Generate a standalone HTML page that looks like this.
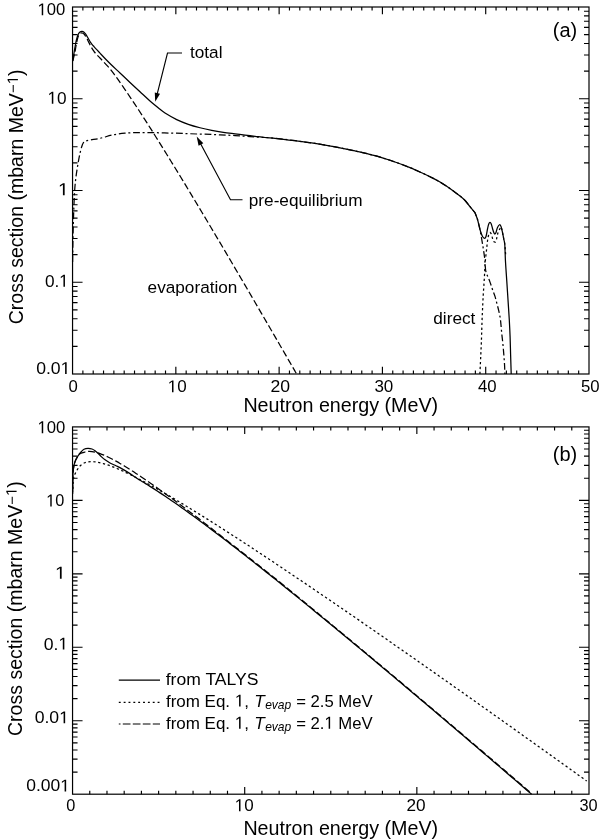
<!DOCTYPE html>
<html><head><meta charset="utf-8"><style>
html,body{margin:0;padding:0;background:#fff;}
svg{display:block;will-change:transform;}
text{font-family:"Liberation Sans",sans-serif;fill:#000;}
</style></head><body>
<svg width="600" height="839" viewBox="0 0 600 839">
<rect width="600" height="839" fill="#fff"/>
<rect x="72.55" y="7" width="516.45" height="367" fill="none" stroke="#000" stroke-width="1.2"/>
<path d="M82.88,374v-3.5M82.88,7v3.5M93.21,374v-3.5M93.21,7v3.5M103.54,374v-3.5M103.54,7v3.5M113.87,374v-3.5M113.87,7v3.5M124.19,374v-3.5M124.19,7v3.5M134.52,374v-3.5M134.52,7v3.5M144.85,374v-3.5M144.85,7v3.5M155.18,374v-3.5M155.18,7v3.5M165.51,374v-3.5M165.51,7v3.5M175.84,374v-7.2M175.84,7v7.2M186.17,374v-3.5M186.17,7v3.5M196.5,374v-3.5M196.5,7v3.5M206.83,374v-3.5M206.83,7v3.5M217.16,374v-3.5M217.16,7v3.5M227.49,374v-3.5M227.49,7v3.5M237.81,374v-3.5M237.81,7v3.5M248.14,374v-3.5M248.14,7v3.5M258.47,374v-3.5M258.47,7v3.5M268.8,374v-3.5M268.8,7v3.5M279.13,374v-7.2M279.13,7v7.2M289.46,374v-3.5M289.46,7v3.5M299.79,374v-3.5M299.79,7v3.5M310.12,374v-3.5M310.12,7v3.5M320.45,374v-3.5M320.45,7v3.5M330.78,374v-3.5M330.78,7v3.5M341.1,374v-3.5M341.1,7v3.5M351.43,374v-3.5M351.43,7v3.5M361.76,374v-3.5M361.76,7v3.5M372.09,374v-3.5M372.09,7v3.5M382.42,374v-7.2M382.42,7v7.2M392.75,374v-3.5M392.75,7v3.5M403.08,374v-3.5M403.08,7v3.5M413.41,374v-3.5M413.41,7v3.5M423.74,374v-3.5M423.74,7v3.5M434.07,374v-3.5M434.07,7v3.5M444.39,374v-3.5M444.39,7v3.5M454.72,374v-3.5M454.72,7v3.5M465.05,374v-3.5M465.05,7v3.5M475.38,374v-3.5M475.38,7v3.5M485.71,374v-7.2M485.71,7v7.2M496.04,374v-3.5M496.04,7v3.5M506.37,374v-3.5M506.37,7v3.5M516.7,374v-3.5M516.7,7v3.5M527.03,374v-3.5M527.03,7v3.5M537.36,374v-3.5M537.36,7v3.5M547.68,374v-3.5M547.68,7v3.5M558.01,374v-3.5M558.01,7v3.5M568.34,374v-3.5M568.34,7v3.5M578.67,374v-3.5M578.67,7v3.5M72.55,346.38h5M589,346.38h-5M72.55,330.22h5M589,330.22h-5M72.55,318.76h5M589,318.76h-5M72.55,309.87h5M589,309.87h-5M72.55,302.6h5M589,302.6h-5M72.55,296.46h5M589,296.46h-5M72.55,291.14h5M589,291.14h-5M72.55,286.45h5M589,286.45h-5M72.55,282.25h10M589,282.25h-10M72.55,254.63h5M589,254.63h-5M72.55,238.47h5M589,238.47h-5M72.55,227.01h5M589,227.01h-5M72.55,218.12h5M589,218.12h-5M72.55,210.85h5M589,210.85h-5M72.55,204.71h5M589,204.71h-5M72.55,199.39h5M589,199.39h-5M72.55,194.7h5M589,194.7h-5M72.55,190.5h10M589,190.5h-10M72.55,162.88h5M589,162.88h-5M72.55,146.72h5M589,146.72h-5M72.55,135.26h5M589,135.26h-5M72.55,126.37h5M589,126.37h-5M72.55,119.1h5M589,119.1h-5M72.55,112.96h5M589,112.96h-5M72.55,107.64h5M589,107.64h-5M72.55,102.95h5M589,102.95h-5M72.55,98.75h10M589,98.75h-10M72.55,71.13h5M589,71.13h-5M72.55,54.97h5M589,54.97h-5M72.55,43.51h5M589,43.51h-5M72.55,34.62h5M589,34.62h-5M72.55,27.35h5M589,27.35h-5M72.55,21.21h5M589,21.21h-5M72.55,15.89h5M589,15.89h-5M72.55,11.2h5M589,11.2h-5" fill="none" stroke="#000" stroke-width="1.15"/>
<rect x="72.55" y="426.9" width="516.45" height="367.3" fill="none" stroke="#000" stroke-width="1.2"/>
<path d="M89.77,794.2v-3.5M89.77,426.9v3.5M106.98,794.2v-3.5M106.98,426.9v3.5M124.19,794.2v-3.5M124.19,426.9v3.5M141.41,794.2v-3.5M141.41,426.9v3.5M158.62,794.2v-3.5M158.62,426.9v3.5M175.84,794.2v-3.5M175.84,426.9v3.5M193.06,794.2v-3.5M193.06,426.9v3.5M210.27,794.2v-3.5M210.27,426.9v3.5M227.49,794.2v-3.5M227.49,426.9v3.5M244.7,794.2v-7.2M244.7,426.9v7.2M261.92,794.2v-3.5M261.92,426.9v3.5M279.13,794.2v-3.5M279.13,426.9v3.5M296.34,794.2v-3.5M296.34,426.9v3.5M313.56,794.2v-3.5M313.56,426.9v3.5M330.78,794.2v-3.5M330.78,426.9v3.5M347.99,794.2v-3.5M347.99,426.9v3.5M365.2,794.2v-3.5M365.2,426.9v3.5M382.42,794.2v-3.5M382.42,426.9v3.5M399.63,794.2v-3.5M399.63,426.9v3.5M416.85,794.2v-7.2M416.85,426.9v7.2M434.06,794.2v-3.5M434.06,426.9v3.5M451.28,794.2v-3.5M451.28,426.9v3.5M468.5,794.2v-3.5M468.5,426.9v3.5M485.71,794.2v-3.5M485.71,426.9v3.5M502.93,794.2v-3.5M502.93,426.9v3.5M520.14,794.2v-3.5M520.14,426.9v3.5M537.36,794.2v-3.5M537.36,426.9v3.5M554.57,794.2v-3.5M554.57,426.9v3.5M571.78,794.2v-3.5M571.78,426.9v3.5M72.55,772.09h5M589,772.09h-5M72.55,759.15h5M589,759.15h-5M72.55,749.97h5M589,749.97h-5M72.55,742.85h5M589,742.85h-5M72.55,737.04h5M589,737.04h-5M72.55,732.12h5M589,732.12h-5M72.55,727.86h5M589,727.86h-5M72.55,724.1h5M589,724.1h-5M72.55,720.74h10M589,720.74h-10M72.55,698.63h5M589,698.63h-5M72.55,685.69h5M589,685.69h-5M72.55,676.51h5M589,676.51h-5M72.55,669.39h5M589,669.39h-5M72.55,663.58h5M589,663.58h-5M72.55,658.66h5M589,658.66h-5M72.55,654.4h5M589,654.4h-5M72.55,650.64h5M589,650.64h-5M72.55,647.28h10M589,647.28h-10M72.55,625.17h5M589,625.17h-5M72.55,612.23h5M589,612.23h-5M72.55,603.05h5M589,603.05h-5M72.55,595.93h5M589,595.93h-5M72.55,590.12h5M589,590.12h-5M72.55,585.2h5M589,585.2h-5M72.55,580.94h5M589,580.94h-5M72.55,577.18h5M589,577.18h-5M72.55,573.82h10M589,573.82h-10M72.55,551.71h5M589,551.71h-5M72.55,538.77h5M589,538.77h-5M72.55,529.59h5M589,529.59h-5M72.55,522.47h5M589,522.47h-5M72.55,516.66h5M589,516.66h-5M72.55,511.74h5M589,511.74h-5M72.55,507.48h5M589,507.48h-5M72.55,503.72h5M589,503.72h-5M72.55,500.36h10M589,500.36h-10M72.55,478.25h5M589,478.25h-5M72.55,465.31h5M589,465.31h-5M72.55,456.13h5M589,456.13h-5M72.55,449.01h5M589,449.01h-5M72.55,443.2h5M589,443.2h-5M72.55,438.28h5M589,438.28h-5M72.55,434.02h5M589,434.02h-5M72.55,430.26h5M589,430.26h-5" fill="none" stroke="#000" stroke-width="1.15"/>
<path d="M72.7,61 C72.97,59.33 73.22,57.66 73.5,56 C73.72,54.66 73.97,53.33 74.2,52 C74.54,50 74.83,47.99 75.2,46 C75.57,43.99 75.91,41.98 76.4,40 C76.84,38.24 77.26,36.43 78,34.8 C78.46,33.77 79.17,32.71 80,32 C80.5,31.57 81.34,31.37 82,31.4 C82.68,31.43 83.46,31.76 84,32.2 C84.79,32.83 85.41,33.75 86,34.6 C86.74,35.68 87.34,36.86 88,38 C88.67,39.16 89.28,40.37 90,41.5 C90.61,42.47 91.29,43.4 92,44.3 C92.63,45.1 93.33,45.84 94,46.6 C94.66,47.34 95.33,48.07 96,48.8 C96.83,49.7 97.67,50.6 98.5,51.5 C99.34,52.41 100.15,53.35 101,54.25 C102.65,56.01 104.31,57.77 106,59.5 C107.65,61.19 109.3,62.86 111,64.5 C113.97,67.36 117,70.16 120,73 C123.34,76.16 126.65,79.35 130,82.5 C133.32,85.62 136.66,88.71 140,91.8 C143.33,94.88 146.58,98.03 150,101 C153.25,103.83 156.63,106.51 160,109.2 C161.63,110.51 163.23,111.9 165,113 C168.79,115.36 172.68,117.65 176.7,119.6 C180.45,121.42 184.37,122.92 188.3,124.3 C192.13,125.64 196.07,126.72 200,127.75 C203.87,128.76 207.78,129.62 211.7,130.4 C215.55,131.17 219.42,131.82 223.3,132.4 C227.19,132.98 231.1,133.41 235,133.9 C238.33,134.31 241.67,134.7 245,135.1 C248.33,135.5 251.67,135.9 255,136.3 C258.33,136.7 261.66,137.17 265,137.5 C268.33,137.83 271.68,137.95 275,138.3 C281.68,139.01 288.34,139.85 295,140.7 C301.67,141.55 308.35,142.39 315,143.4 C321.68,144.42 328.35,145.55 335,146.8 C341.69,148.05 348.36,149.42 355,150.9 C361.69,152.39 368.4,153.87 375,155.7 C381.73,157.57 388.38,159.75 395,162 C400.05,163.72 405.05,165.6 410,167.6 C413.95,169.2 417.83,171.01 421.7,172.8 C425.6,174.61 429.46,176.47 433.3,178.4 C435.56,179.54 437.82,180.71 440,182 C442.28,183.35 444.51,184.81 446.7,186.3 C449.41,188.14 452.05,190.07 454.7,192 C456.49,193.3 458.29,194.6 460,196 C461.82,197.5 463.69,198.98 465.3,200.7 C467.03,202.55 468.4,204.72 470,206.7 C471.64,208.72 473.33,210.7 475,212.7 C475.77,214.7 476.67,216.66 477.3,218.7 C478.11,221.32 478.62,224.04 479.3,226.7 C479.68,228.2 480.02,229.73 480.5,231.2 C481.09,232.99 481.6,234.9 482.5,236.5 C482.93,237.26 483.88,238.3 484.5,238.3 C485.04,238.3 485.77,237.23 486,236.5 C486.77,234.13 486.95,231.49 487.5,229 C487.87,227.32 488.16,225.58 488.75,224 C488.99,223.35 489.58,222.3 490,222.3 C490.42,222.3 490.99,223.36 491.25,224 C491.82,225.42 492.05,227.01 492.5,228.5 C492.96,230.01 493.36,231.59 494,233 C494.19,233.42 494.71,234.07 495,234 C495.37,233.91 495.79,233.06 496,232.5 C496.62,230.89 496.79,229.06 497.5,227.5 C497.96,226.48 498.8,224.95 499.5,224.75 C499.97,224.62 500.73,225.8 501,226.5 C501.73,228.38 502.06,230.49 502.5,232.5 C502.97,234.65 503.33,236.83 503.75,239 C504.08,240.67 504.62,242.31 504.75,244 C505.17,249.31 505.11,254.67 505.4,260 C505.79,267.14 506.33,274.27 506.8,281.4 C507.27,288.57 507.74,295.73 508.2,302.9 C508.57,308.6 508.98,314.3 509.3,320 C509.62,325.66 509.89,331.33 510.1,337 C510.32,342.8 510.43,348.6 510.6,354.4 C510.79,360.93 511,367.47 511.2,374" fill="none" stroke="#000" stroke-width="1.25"/>
<path d="M72.8,61 C73.2,59.33 73.59,57.66 74,56 C74.33,54.66 74.73,53.35 75,52 C75.4,50.01 75.63,47.99 76,46 C76.37,43.99 76.72,41.98 77.2,40 C77.52,38.65 77.85,37.26 78.4,36 C78.78,35.13 79.3,34.18 80,33.6 C80.5,33.18 81.36,32.94 82,33 C82.69,33.07 83.43,33.55 84,34 C84.43,34.35 84.69,34.92 85,35.4 C85.63,36.38 86.24,37.38 86.8,38.4 C87.51,39.71 88.13,41.07 88.8,42.4 C89.47,43.73 90.08,45.1 90.8,46.4 C91.41,47.5 92.12,48.54 92.8,49.6 C93.32,50.41 93.81,51.24 94.4,52 C95.21,53.04 96.1,54.03 97,55 C97.96,56.03 99.02,56.98 100,58 C101.69,59.78 103.33,61.6 105,63.4 C106.67,65.2 108.43,66.92 110,68.8 C111.76,70.91 113.36,73.17 115,75.38 C116.36,77.22 117.68,79.08 119,80.95 C120.34,82.84 121.68,84.74 123,86.65 C124.34,88.59 125.67,90.53 127,92.48 C128.34,94.45 129.67,96.43 131,98.41 C132.34,100.41 133.67,102.42 135,104.43 C136.34,106.45 137.67,108.49 139,110.52 C140.34,112.57 141.67,114.63 143,116.69 C144.34,118.76 145.67,120.83 147,122.91 C148.34,125 149.67,127.09 151,129.19 C152.34,131.3 153.67,133.41 155,135.52 C156.34,137.64 157.67,139.77 159,141.89 C160.34,144.03 161.67,146.17 163,148.31 C164.34,150.46 165.67,152.61 167,154.76 C168.34,156.92 169.67,159.08 171,161.24 C172.34,163.41 173.67,165.59 175,167.76 C176.34,169.94 177.67,172.12 179,174.3 C180.34,176.49 181.67,178.68 183,180.88 C184.34,183.07 185.67,185.27 187,187.47 C188.34,189.68 189.67,191.89 191,194.09 C192.33,196.31 193.67,198.52 195,200.73 C196.33,202.95 197.67,205.17 199,207.4 C200.33,209.62 201.67,211.85 203,214.08 C204.33,216.31 205.67,218.54 207,220.77 C208.33,223.01 209.67,225.25 211,227.49 C212.33,229.73 213.67,231.98 215,234.22 C216.33,236.47 217.67,238.72 219,240.97 C220.33,243.22 221.67,245.47 223,247.73 C224.33,249.98 225.67,252.24 227,254.5 C228.33,256.76 229.67,259.02 231,261.29 C232.33,263.55 233.67,265.82 235,268.08 C236.33,270.35 237.67,272.62 239,274.89 C240.33,277.17 241.67,279.44 243,281.71 C244.33,283.99 245.67,286.27 247,288.55 C248.33,290.82 249.67,293.11 251,295.39 C252.33,297.67 253.67,299.95 255,302.24 C256.33,304.52 257.67,306.81 259,309.1 C260.33,311.38 261.67,313.67 263,315.96 C264.33,318.26 265.67,320.55 267,322.84 C268.33,325.13 269.67,327.43 271,329.72 C272.33,332.02 273.67,334.32 275,336.62 C276.33,338.92 277.67,341.22 279,343.52 C280.33,345.82 281.67,348.12 283,350.42 C284.33,352.73 285.67,355.03 287,357.34 C288.33,359.64 289.67,361.95 291,364.26 C292.33,366.57 293.67,368.87 295,371.18 C295.54,372.12 296.08,373.06 296.63,374" fill="none" stroke="#000" stroke-width="1.25" stroke-dasharray="6.8 2.9"/>
<path d="M72.6,262 C72.73,253.57 72.82,245.13 73,236.7 C73.18,228.37 73.4,220.03 73.7,211.7 C73.96,204.46 74.25,197.22 74.7,190 C74.95,186.09 75.33,182.19 75.8,178.3 C76.27,174.42 76.85,170.55 77.5,166.7 C78.25,162.22 79.03,157.74 80,153.3 C80.6,150.57 81.3,147.84 82.2,145.2 C82.63,143.94 83.4,142.8 84,141.6 C85.33,141.2 86.64,140.68 88,140.4 C91.97,139.58 96.04,139.17 100,138.3 C104.2,137.37 108.28,135.86 112.5,135 C116.62,134.16 120.81,133.6 125,133.2 C129.15,132.8 133.33,132.7 137.5,132.6 C141.66,132.5 145.83,132.53 150,132.6 C158.33,132.73 166.67,132.95 175,133.2 C182.33,133.42 189.67,133.74 197,134 C203,134.21 209,134.35 215,134.6 C221.67,134.88 228.34,135.22 235,135.6 C240,135.89 245,136.27 250,136.6 C252.67,136.77 255.33,136.94 258,137.1 C260.33,137.24 262.67,137.34 265,137.5 C268.34,137.74 271.68,137.95 275,138.3 C281.68,139.01 288.34,139.85 295,140.7 C301.67,141.55 308.35,142.39 315,143.4 C321.68,144.42 328.35,145.55 335,146.8 C341.69,148.05 348.36,149.42 355,150.9 C361.69,152.39 368.4,153.87 375,155.7 C381.73,157.57 388.38,159.75 395,162 C400.05,163.72 405.05,165.6 410,167.6 C413.95,169.2 417.83,171.01 421.7,172.8 C425.6,174.61 429.46,176.47 433.3,178.4 C435.56,179.54 437.82,180.71 440,182 C442.28,183.35 444.51,184.81 446.7,186.3 C449.41,188.14 452.05,190.07 454.7,192 C456.49,193.3 458.29,194.6 460,196 C461.82,197.5 463.69,198.98 465.3,200.7 C467.03,202.55 468.4,204.72 470,206.7 C471.64,208.72 473.33,210.7 475,212.7 C475.77,214.7 476.67,216.66 477.3,218.7 C478.17,221.52 478.87,224.41 479.5,227.3 C480.31,231.01 480.94,234.76 481.6,238.5 C482.28,242.36 482.9,246.23 483.5,250.1 C483.93,252.89 484.38,255.69 484.7,258.5 C484.95,260.66 485.03,262.83 485.2,265 C485.33,266.67 485.36,268.35 485.6,270 C485.76,271.12 486.08,272.22 486.4,273.3 C486.58,273.89 486.87,274.43 487.1,275 C488.07,277.37 489.11,279.7 490,282.1 C491.05,284.94 491.9,287.84 492.9,290.7 C493.57,292.61 494.4,294.47 495,296.4 C495.8,299 496.41,301.66 497.1,304.3 C497.71,306.66 498.38,309.02 498.9,311.4 C499.48,314.02 500.06,316.64 500.4,319.3 C500.99,323.84 501.24,328.44 501.7,333 C502.07,336.67 502.54,340.33 502.9,344 C503.24,347.46 503.52,350.93 503.8,354.4 C504.06,357.6 504.32,360.8 504.5,364 C504.69,367.33 504.77,370.67 504.9,374" fill="none" stroke="#000" stroke-width="1.25" stroke-dasharray="6.8 2.7 2 2.8"/>
<path d="M479.9,374 C480.37,363.87 480.89,353.74 481.3,343.6 C481.63,335.5 481.81,327.4 482.1,319.3 C482.21,316.2 482.36,313.1 482.5,310 C482.72,305.23 482.93,300.46 483.2,295.7 C483.4,292.13 483.67,288.57 483.9,285 C484.14,281.2 484.4,277.4 484.6,273.6 C484.76,270.6 484.79,267.59 485,264.6 C485.19,261.79 485.51,259 485.8,256.2 C486.04,253.93 486.35,251.67 486.6,249.4 C486.88,246.84 487.05,244.26 487.4,241.7 C487.68,239.62 487.93,237.5 488.5,235.5 C488.8,234.43 489.41,232.97 490,232.5 C490.25,232.3 490.79,233.09 491,233.5 C491.46,234.42 491.67,235.5 492,236.5 C492.51,238.06 492.69,239.92 493.5,241.2 C493.85,241.76 495.16,242.41 495.5,242 C496.33,241.01 496.55,238.68 497,237 C497.38,235.6 497.52,234.11 498,232.75 C498.52,231.28 499.3,229.9 500,228.5 C500.3,227.91 500.8,226.46 501,226.8 C501.63,227.86 502.06,230.72 502.5,232.7 C502.98,234.85 503.33,237.03 503.75,239.2 C504.08,240.87 504.54,242.52 504.75,244.2 C505.19,247.85 505.38,251.53 505.7,255.2" fill="none" stroke="#000" stroke-width="1.25" stroke-dasharray="2.3 2.6"/>
<path d="M72.6,492 C72.73,485.77 72.67,479.52 73,473.3 C73.14,470.62 73.47,467.92 74,465.3 C74.37,463.49 74.97,461.69 75.7,460 C76.3,458.59 77.15,457.28 78,456 C78.92,454.61 79.9,453.24 81,452 C81.9,450.98 82.83,449.82 84,449.2 C85.17,448.58 86.66,448.33 88,448.3 C89.33,448.27 90.75,448.54 92,449 C93.19,449.44 94.26,450.25 95.3,451 C96.26,451.69 97.14,452.49 98,453.3 C99.14,454.36 100.17,455.53 101.3,456.6 C102.4,457.63 103.49,458.71 104.7,459.6 C106.39,460.84 108.16,461.99 110,463 C111.93,464.06 114.01,464.85 116,465.8 C117.91,466.71 119.85,467.57 121.7,468.6 C124.52,470.17 127.29,471.85 130,473.6 C132.72,475.35 135.29,477.32 138,479.09 C139.29,479.94 140.67,480.65 142,481.45 C143.34,482.24 144.67,483.05 146,483.87 C147.34,484.69 148.67,485.52 150,486.36 C151.34,487.2 152.67,488.05 154,488.9 C155.34,489.76 156.67,490.63 158,491.5 C159.34,492.37 160.67,493.26 162,494.14 C163.34,495.03 164.67,495.93 166,496.83 C167.34,497.73 168.67,498.64 170,499.56 C171.34,500.47 172.67,501.39 174,502.32 C175.34,503.25 176.67,504.18 178,505.11 C179.34,506.05 180.67,507 182,507.94 C183.34,508.89 184.67,509.84 186,510.8 C187.34,511.76 188.67,512.72 190,513.68 C191.34,514.65 192.67,515.62 194,516.59 C195.34,517.56 196.67,518.54 198,519.52 C199.34,520.5 200.67,521.49 202,522.47 C203.33,523.46 204.67,524.45 206,525.45 C207.33,526.44 208.67,527.44 210,528.44 C211.33,529.44 212.67,530.45 214,531.45 C215.33,532.46 216.67,533.47 218,534.48 C219.33,535.49 220.67,536.51 222,537.52 C223.33,538.54 224.67,539.56 226,540.58 C227.33,541.61 228.67,542.63 230,543.66 C231.33,544.69 232.67,545.72 234,546.75 C235.33,547.78 236.67,548.82 238,549.85 C239.33,550.89 240.67,551.93 242,552.97 C243.33,554.01 244.67,555.05 246,556.09 C247.33,557.14 248.67,558.18 250,559.23 C251.33,560.28 252.67,561.33 254,562.38 C255.33,563.43 256.67,564.48 258,565.54 C259.33,566.59 260.67,567.65 262,568.71 C263.33,569.77 264.67,570.83 266,571.89 C267.33,572.95 268.67,574.01 270,575.08 C271.33,576.14 272.67,577.21 274,578.27 C275.33,579.34 276.67,580.41 278,581.48 C279.33,582.55 280.67,583.62 282,584.69 C283.33,585.76 284.67,586.84 286,587.91 C287.33,588.99 288.67,590.07 290,591.14 C291.33,592.22 292.67,593.3 294,594.38 C295.33,595.46 296.67,596.54 298,597.62 C299.33,598.71 300.67,599.79 302,600.87 C303.33,601.96 304.67,603.04 306,604.13 C307.33,605.22 308.67,606.3 310,607.39 C311.33,608.48 312.67,609.57 314,610.66 C315.33,611.75 316.67,612.84 318,613.94 C319.33,615.03 320.67,616.12 322,617.22 C323.33,618.31 324.67,619.41 326,620.5 C327.33,621.6 328.67,622.7 330,623.8 C331.33,624.89 332.67,625.99 334,627.09 C335.33,628.19 336.67,629.29 338,630.4 C339.33,631.5 340.67,632.6 342,633.7 C343.33,634.81 344.67,635.91 346,637.01 C347.33,638.12 348.67,639.22 350,640.33 C351.33,641.44 352.67,642.54 354,643.65 C355.33,644.76 356.67,645.87 358,646.98 C359.33,648.09 360.67,649.2 362,650.31 C363.33,651.42 364.67,652.53 366,653.64 C367.33,654.75 368.67,655.86 370,656.98 C371.33,658.09 372.67,659.2 374,660.32 C375.33,661.43 376.67,662.55 378,663.66 C379.33,664.78 380.67,665.89 382,667.01 C383.33,668.13 384.67,669.25 386,670.36 C387.33,671.48 388.67,672.6 390,673.72 C391.33,674.84 392.67,675.96 394,677.08 C395.33,678.2 396.67,679.32 398,680.44 C399.33,681.56 400.67,682.69 402,683.81 C403.33,684.93 404.67,686.05 406,687.18 C407.33,688.3 408.67,689.42 410,690.55 C411.33,691.67 412.67,692.8 414,693.92 C415.33,695.05 416.67,696.18 418,697.3 C419.33,698.43 420.67,699.56 422,700.68 C423.33,701.81 424.67,702.94 426,704.07 C427.33,705.2 428.67,706.32 430,707.45 C431.33,708.58 432.67,709.71 434,710.84 C435.33,711.97 436.67,713.1 438,714.24 C439.33,715.37 440.67,716.5 442,717.63 C443.33,718.76 444.67,719.89 446,721.03 C447.33,722.16 448.67,723.29 450,724.43 C451.33,725.56 452.67,726.69 454,727.83 C455.33,728.96 456.67,730.1 458,731.23 C459.33,732.37 460.67,733.5 462,734.64 C463.33,735.78 464.67,736.91 466,738.05 C467.33,739.18 468.67,740.32 470,741.46 C471.33,742.6 472.67,743.73 474,744.87 C475.33,746.01 476.67,747.15 478,748.29 C479.33,749.43 480.67,750.57 482,751.71 C483.33,752.85 484.67,753.99 486,755.13 C487.33,756.27 488.67,757.41 490,758.55 C491.33,759.69 492.67,760.83 494,761.97 C495.33,763.11 496.67,764.25 498,765.4 C499.33,766.54 500.67,767.68 502,768.82 C503.33,769.97 504.67,771.11 506,772.25 C507.33,773.4 508.67,774.54 510,775.68 C511.33,776.83 512.67,777.97 514,779.12 C515.33,780.26 516.67,781.41 518,782.55 C519.33,783.7 520.67,784.84 522,785.99 C523.33,787.13 524.67,788.28 526,789.43 C527.33,790.57 528.67,791.72 530,792.87 C530.52,793.31 531.03,793.76 531.55,794.2" fill="none" stroke="#000" stroke-width="1.25"/>
<path d="M72.6,492 C72.73,485.77 72.67,479.52 73,473.3 C73.14,470.62 73.47,467.92 74,465.3 C74.37,463.49 74.97,461.69 75.7,460 C76.3,458.59 77.15,457.27 78,456 C78.58,455.14 79.15,454.12 80,453.6 C81.15,452.9 82.65,452.69 84,452.32 C85.32,451.95 86.65,451.53 88,451.39 C89.32,451.26 90.68,451.37 92,451.52 C93.35,451.68 94.68,451.99 96,452.33 C97.35,452.68 98.68,453.12 100,453.58 C101.35,454.06 102.68,454.61 104,455.17 C105.35,455.74 106.68,456.36 108,456.99 C109.35,457.64 110.68,458.31 112,459 C113.34,459.7 114.68,460.42 116,461.16 C117.34,461.9 118.67,462.66 120,463.44 C121.34,464.22 122.67,465.01 124,465.81 C125.34,466.62 126.67,467.44 128,468.27 C129.34,469.11 130.67,469.95 132,470.81 C133.34,471.66 134.67,472.53 136,473.4 C137.34,474.28 138.67,475.16 140,476.05 C141.34,476.94 142.67,477.84 144,478.75 C145.34,479.65 146.67,480.57 148,481.48 C149.34,482.41 150.67,483.33 152,484.26 C153.34,485.19 154.67,486.13 156,487.07 C157.34,488.02 158.67,488.97 160,489.92 C161.34,490.87 162.67,491.83 164,492.79 C165.34,493.75 166.67,494.72 168,495.69 C169.34,496.66 170.67,497.63 172,498.61 C173.34,499.59 174.67,500.57 176,501.55 C177.33,502.54 178.67,503.53 180,504.52 C181.33,505.51 182.67,506.51 184,507.5 C185.33,508.5 186.67,509.5 188,510.51 C189.33,511.51 190.67,512.52 192,513.53 C193.33,514.54 194.67,515.55 196,516.56 C197.33,517.58 198.67,518.6 200,519.62 C201.33,520.64 202.67,521.66 204,522.68 C205.33,523.71 206.67,524.73 208,525.76 C209.33,526.79 210.67,527.82 212,528.85 C213.33,529.88 214.67,530.92 216,531.95 C217.33,532.99 218.67,534.03 220,535.07 C221.33,536.11 222.67,537.15 224,538.2 C225.33,539.24 226.67,540.29 228,541.33 C229.33,542.37 230.67,543.41 232,544.45 C233.33,545.49 234.67,546.52 236,547.56 C237.33,548.6 238.67,549.64 240,550.68 C241.33,551.72 242.67,552.76 244,553.8 C245.33,554.85 246.67,555.89 248,556.94 C249.33,557.98 250.67,559.03 252,560.08 C253.33,561.13 254.67,562.18 256,563.23 C257.33,564.28 258.67,565.33 260,566.39 C261.33,567.44 262.67,568.5 264,569.55 C265.33,570.61 266.67,571.67 268,572.72 C269.33,573.78 270.67,574.84 272,575.9 C273.33,576.96 274.67,578.02 276,579.09 C277.33,580.15 278.67,581.21 280,582.28 C281.34,583.35 282.67,584.44 284,585.52 C285.33,586.6 286.67,587.69 288,588.77 C289.33,589.86 290.67,590.94 292,592.03 C293.33,593.11 294.67,594.2 296,595.29 C297.33,596.38 298.67,597.47 300,598.56 C301.33,599.65 302.67,600.74 304,601.83 C305.33,602.92 306.67,604.01 308,605.1 C309.33,606.2 310.67,607.29 312,608.39 C313.33,609.48 314.67,610.58 316,611.67 C317.33,612.77 318.67,613.87 320,614.96 C321.33,616.06 322.67,617.16 324,618.26 C325.33,619.36 326.67,620.46 328,621.56 C329.33,622.66 330.67,623.76 332,624.86 C333.33,625.97 334.67,627.07 336,628.17 C337.33,629.27 338.67,630.38 340,631.48 C341.33,632.59 342.67,633.69 344,634.8 C345.33,635.91 346.67,637.01 348,638.12 C349.33,639.23 350.67,640.33 352,641.44 C353.33,642.55 354.67,643.66 356,644.77 C357.33,645.88 358.67,646.99 360,648.1 C361.33,649.21 362.67,650.32 364,651.43 C365.33,652.55 366.67,653.66 368,654.77 C369.33,655.89 370.67,657 372,658.11 C373.33,659.23 374.67,660.34 376,661.46 C377.33,662.57 378.67,663.69 380,664.8 C381.33,665.92 382.67,667.04 384,668.15 C385.33,669.27 386.67,670.39 388,671.51 C389.33,672.63 390.67,673.75 392,674.86 C393.33,675.98 394.67,677.1 396,678.22 C397.33,679.34 398.67,680.46 400,681.59 C401.33,682.71 402.67,683.83 404,684.95 C405.33,686.07 406.67,687.19 408,688.32 C409.33,689.44 410.67,690.56 412,691.69 C413.33,692.81 414.67,693.94 416,695.06 C417.33,696.19 418.67,697.31 420,698.44 C421.33,699.56 422.67,700.69 424,701.81 C425.33,702.94 426.67,704.07 428,705.19 C429.33,706.32 430.67,707.45 432,708.58 C433.33,709.7 434.67,710.83 436,711.96 C437.33,713.09 438.67,714.22 440,715.35 C441.33,716.48 442.67,717.61 444,718.74 C445.33,719.87 446.67,721 448,722.13 C449.33,723.26 450.67,724.39 452,725.52 C453.33,726.66 454.67,727.79 456,728.92 C457.33,730.05 458.67,731.19 460,732.32 C461.33,733.45 462.67,734.59 464,735.72 C465.33,736.85 466.67,737.99 468,739.12 C469.33,740.26 470.67,741.39 472,742.53 C473.33,743.66 474.67,744.8 476,745.93 C477.33,747.07 478.67,748.2 480,749.34 C481.33,750.48 482.67,751.61 484,752.75 C485.33,753.89 486.67,755.03 488,756.16 C489.33,757.3 490.67,758.44 492,759.58 C493.33,760.72 494.67,761.85 496,762.99 C497.33,764.13 498.67,765.27 500,766.41 C501.33,767.55 502.67,768.69 504,769.83 C505.33,770.97 506.67,772.11 508,773.25 C509.33,774.39 510.67,775.53 512,776.67 C513.33,777.82 514.67,778.96 516,780.1 C517.33,781.24 518.67,782.38 520,783.53 C521.33,784.67 522.67,785.81 524,786.95 C525.33,788.1 526.67,789.24 528,790.38 C529.25,791.46 530.5,792.53 531.75,793.6" fill="none" stroke="#000" stroke-width="1.25" stroke-dasharray="6.9 2.8"/>
<path d="M72.6,494 C72.97,488.43 72.98,482.79 73.7,477.3 C73.88,475.91 74.64,474.61 75.3,473.36 C76.5,471.09 77.7,468.71 79.3,466.73 C80.36,465.42 81.84,464.35 83.3,463.51 C84.51,462.81 85.93,462.4 87.3,462.09 C88.6,461.79 89.96,461.72 91.3,461.69 C92.63,461.67 93.97,461.79 95.3,461.94 C96.64,462.1 97.98,462.35 99.3,462.62 C100.64,462.91 101.98,463.25 103.3,463.62 C104.64,464 105.98,464.42 107.3,464.85 C108.64,465.3 109.97,465.78 111.3,466.27 C112.64,466.77 113.97,467.3 115.3,467.83 C116.64,468.38 117.97,468.94 119.3,469.52 C120.64,470.1 121.97,470.7 123.3,471.3 C124.64,471.92 125.97,472.54 127.3,473.17 C128.64,473.81 129.97,474.46 131.3,475.12 C132.64,475.78 133.97,476.45 135.3,477.13 C136.64,477.81 137.97,478.5 139.3,479.19 C140.64,479.89 141.97,480.59 143.3,481.3 C144.64,482.02 145.97,482.74 147.3,483.46 C148.64,484.19 149.97,484.92 151.3,485.66 C152.64,486.4 153.97,487.14 155.3,487.89 C156.64,488.64 157.97,489.4 159.3,490.16 C160.64,490.92 161.97,491.68 163.3,492.45 C164.64,493.22 165.97,494 167.3,494.77 C168.64,495.55 169.97,496.34 171.3,497.12 C172.64,497.91 173.97,498.7 175.3,499.49 C176.63,500.29 177.97,501.09 179.3,501.89 C180.63,502.69 181.97,503.49 183.3,504.3 C184.63,505.11 185.97,505.92 187.3,506.73 C188.63,507.54 189.97,508.36 191.3,509.18 C192.63,510 193.97,510.82 195.3,511.65 C196.63,512.47 197.97,513.3 199.3,514.13 C200.63,514.96 201.97,515.79 203.3,516.62 C204.63,517.46 205.97,518.29 207.3,519.13 C208.63,519.97 209.97,520.81 211.3,521.65 C212.63,522.5 213.97,523.34 215.3,524.19 C216.63,525.03 217.97,525.88 219.3,526.73 C220.63,527.58 221.97,528.44 223.3,529.29 C224.63,530.15 225.97,531 227.3,531.86 C228.63,532.72 229.97,533.58 231.3,534.44 C232.63,535.3 233.97,536.16 235.3,537.02 C236.63,537.89 237.97,538.75 239.3,539.62 C240.63,540.49 241.97,541.36 243.3,542.22 C244.63,543.09 245.97,543.97 247.3,544.84 C248.63,545.71 249.97,546.58 251.3,547.46 C252.63,548.34 253.97,549.21 255.3,550.09 C256.63,550.97 257.97,551.85 259.3,552.73 C260.63,553.61 261.97,554.49 263.3,555.37 C264.63,556.25 265.97,557.14 267.3,558.02 C268.63,558.9 269.97,559.79 271.3,560.68 C272.63,561.56 273.97,562.45 275.3,563.34 C276.63,564.23 277.97,565.12 279.3,566.01 C280.63,566.9 281.97,567.79 283.3,568.69 C284.63,569.58 285.97,570.47 287.3,571.37 C288.63,572.26 289.97,573.16 291.3,574.05 C292.63,574.95 293.97,575.85 295.3,576.75 C296.63,577.64 297.97,578.54 299.3,579.44 C300.63,580.34 301.97,581.24 303.3,582.14 C304.63,583.05 305.97,583.95 307.3,584.85 C308.63,585.75 309.97,586.66 311.3,587.56 C312.63,588.47 313.97,589.37 315.3,590.28 C316.63,591.19 317.97,592.09 319.3,593 C320.63,593.91 321.97,594.82 323.3,595.72 C324.63,596.63 325.97,597.54 327.3,598.45 C328.63,599.36 329.97,600.28 331.3,601.19 C332.63,602.1 333.97,603.01 335.3,603.92 C336.63,604.84 337.97,605.75 339.3,606.66 C340.63,607.58 341.97,608.49 343.3,609.41 C344.63,610.32 345.97,611.24 347.3,612.16 C348.63,613.07 349.97,613.99 351.3,614.91 C352.63,615.83 353.97,616.75 355.3,617.66 C356.63,618.58 357.97,619.5 359.3,620.42 C360.63,621.34 361.97,622.26 363.3,623.18 C364.63,624.11 365.97,625.03 367.3,625.95 C368.63,626.87 369.97,627.79 371.3,628.72 C372.63,629.64 373.97,630.56 375.3,631.49 C376.63,632.41 377.97,633.34 379.3,634.26 C380.63,635.19 381.97,636.11 383.3,637.04 C384.63,637.97 385.97,638.89 387.3,639.82 C388.63,640.75 389.97,641.67 391.3,642.6 C392.63,643.53 393.97,644.46 395.3,645.39 C396.63,646.32 397.97,647.24 399.3,648.17 C400.63,649.1 401.97,650.03 403.3,650.96 C404.63,651.89 405.97,652.83 407.3,653.76 C408.63,654.69 409.97,655.62 411.3,656.55 C412.63,657.48 413.97,658.42 415.3,659.35 C416.63,660.28 417.97,661.22 419.3,662.15 C420.63,663.08 421.97,664.02 423.3,664.95 C424.63,665.89 425.97,666.82 427.3,667.76 C428.63,668.69 429.97,669.63 431.3,670.56 C432.63,671.5 433.97,672.44 435.3,673.37 C436.63,674.31 437.97,675.25 439.3,676.18 C440.63,677.12 441.97,678.06 443.3,679 C444.63,679.94 445.97,680.87 447.3,681.81 C448.63,682.75 449.97,683.69 451.3,684.63 C452.63,685.57 453.97,686.51 455.3,687.45 C456.63,688.39 457.97,689.33 459.3,690.27 C460.63,691.21 461.97,692.15 463.3,693.09 C464.63,694.04 465.97,694.98 467.3,695.92 C468.63,696.86 469.97,697.8 471.3,698.75 C472.63,699.69 473.97,700.63 475.3,701.57 C476.63,702.52 477.97,703.46 479.3,704.4 C480.63,705.35 481.97,706.29 483.3,707.24 C484.63,708.18 485.97,709.13 487.3,710.07 C488.63,711.02 489.97,711.96 491.3,712.91 C492.63,713.85 493.97,714.8 495.3,715.74 C496.63,716.69 497.97,717.64 499.3,718.58 C500.63,719.53 501.97,720.48 503.3,721.42 C504.63,722.37 505.97,723.32 507.3,724.26 C508.63,725.21 509.97,726.16 511.3,727.11 C512.63,728.06 513.97,729 515.3,729.95 C516.63,730.9 517.97,731.85 519.3,732.8 C520.63,733.75 521.97,734.7 523.3,735.65 C524.63,736.6 525.97,737.55 527.3,738.5 C528.63,739.45 529.97,740.4 531.3,741.35 C532.63,742.3 533.97,743.25 535.3,744.2 C536.63,745.15 537.97,746.1 539.3,747.05 C540.63,748.01 541.97,748.96 543.3,749.91 C544.63,750.86 545.97,751.81 547.3,752.77 C548.63,753.72 549.97,754.67 551.3,755.62 C552.63,756.58 553.97,757.53 555.3,758.48 C556.63,759.43 557.97,760.39 559.3,761.34 C560.63,762.3 561.97,763.25 563.3,764.2 C564.63,765.16 565.97,766.11 567.3,767.07 C568.63,768.02 569.97,768.97 571.3,769.93 C572.63,770.88 573.97,771.84 575.3,772.79 C576.63,773.75 577.97,774.71 579.3,775.66 C580.63,776.62 581.97,777.57 583.3,778.53 C584.43,779.34 585.57,780.15 586.7,780.97" fill="none" stroke="#000" stroke-width="1.25" stroke-dasharray="2.3 2.6"/>
<path d="M182,53 L167.5,53 L157.16,94.04" fill="none" stroke="#000" stroke-width="1.15"/><path d="M155.2,101.8 L154.78,92.41 L160.02,93.73 Z" fill="#000"/>
<path d="M242.5,199.7 L230.5,199.7 L200.47,143.55" fill="none" stroke="#000" stroke-width="1.15"/><path d="M196.7,136.5 L203.33,143.16 L198.56,145.71 Z" fill="#000"/>
<text x="37.55" y="15.28" font-size="17.2" textLength="27.75" lengthAdjust="spacingAndGlyphs"> 00</text><path d="M515,0L515,1237L197,1010L197,1180L530,1409L696,1409L696,0Z" transform="translate(37.55,15.28) scale(0.00812,-0.00840)"/>
<text x="47.51" y="103.68" font-size="17.2"> 0</text><path d="M515,0L515,1237L197,1010L197,1180L530,1409L696,1409L696,0Z" transform="translate(47.51,103.68) scale(0.00835,-0.00840)"/>
<text x="57.96" y="195.15" font-size="17.2" textLength="10.96" lengthAdjust="spacingAndGlyphs"> </text><path d="M515,0L515,1237L197,1010L197,1180L530,1409L696,1409L696,0Z" transform="translate(57.96,195.15) scale(0.00962,-0.00840)"/>
<text x="44.88" y="286.68" font-size="17.2">0. </text><path d="M515,0L515,1237L197,1010L197,1180L530,1409L696,1409L696,0Z" transform="translate(59.14,286.68) scale(0.00835,-0.00840)"/>
<text x="36.16" y="373.98" font-size="17.2" textLength="34.3" lengthAdjust="spacingAndGlyphs">0.0 </text><path d="M515,0L515,1237L197,1010L197,1180L530,1409L696,1409L696,0Z" transform="translate(60.66,373.98) scale(0.00861,-0.00840)"/>
<text x="37.54" y="433.18" font-size="17.2" textLength="27.86" lengthAdjust="spacingAndGlyphs"> 00</text><path d="M515,0L515,1237L197,1010L197,1180L530,1409L696,1409L696,0Z" transform="translate(37.54,433.18) scale(0.00815,-0.00840)"/>
<text x="46.18" y="506.38" font-size="17.2" textLength="18.1" lengthAdjust="spacingAndGlyphs"> 0</text><path d="M515,0L515,1237L197,1010L197,1180L530,1409L696,1409L696,0Z" transform="translate(46.18,506.38) scale(0.00795,-0.00840)"/>
<text x="54.96" y="578.65" font-size="17.2" textLength="10.96" lengthAdjust="spacingAndGlyphs"> </text><path d="M515,0L515,1237L197,1010L197,1180L530,1409L696,1409L696,0Z" transform="translate(54.96,578.65) scale(0.00962,-0.00840)"/>
<text x="43.66" y="649.58" font-size="17.2" textLength="24.5" lengthAdjust="spacingAndGlyphs">0. </text><path d="M515,0L515,1237L197,1010L197,1180L530,1409L696,1409L696,0Z" transform="translate(58.36,649.58) scale(0.00861,-0.00840)"/>
<text x="34.66" y="723.28" font-size="17.2" textLength="34.3" lengthAdjust="spacingAndGlyphs">0.0 </text><path d="M515,0L515,1237L197,1010L197,1180L530,1409L696,1409L696,0Z" transform="translate(59.16,723.28) scale(0.00861,-0.00840)"/>
<text x="26.17" y="791.48" font-size="17.2" textLength="43.77" lengthAdjust="spacingAndGlyphs">0.00 </text><path d="M515,0L515,1237L197,1010L197,1180L530,1409L696,1409L696,0Z" transform="translate(60.21,791.48) scale(0.00854,-0.00840)"/>
<text x="68.5" y="392.48" font-size="17.2" textLength="9.31" lengthAdjust="spacingAndGlyphs">0</text>
<text x="167.72" y="392.23" font-size="17.2" textLength="18.9" lengthAdjust="spacingAndGlyphs"> 0</text><path d="M515,0L515,1237L197,1010L197,1180L530,1409L696,1409L696,0Z" transform="translate(167.72,392.23) scale(0.00830,-0.00840)"/>
<text x="270.47" y="392.18" font-size="17.2" textLength="19.57" lengthAdjust="spacingAndGlyphs">20</text>
<text x="374.4" y="392.18" font-size="17.2" textLength="18.91" lengthAdjust="spacingAndGlyphs">30</text>
<text x="477.97" y="392.18" font-size="17.2" textLength="18.64" lengthAdjust="spacingAndGlyphs">40</text>
<text x="580.98" y="392.18" font-size="17.2" textLength="18.62" lengthAdjust="spacingAndGlyphs">50</text>
<text x="66.21" y="810.98" font-size="17.2" textLength="9.07" lengthAdjust="spacingAndGlyphs">0</text>
<text x="234.72" y="811.18" font-size="17.2" textLength="18.9" lengthAdjust="spacingAndGlyphs"> 0</text><path d="M515,0L515,1237L197,1010L197,1180L530,1409L696,1409L696,0Z" transform="translate(234.72,811.18) scale(0.00830,-0.00840)"/>
<text x="406.48" y="811.18" font-size="17.2">20</text>
<text x="579.43" y="811.08" font-size="17.2" textLength="18.16" lengthAdjust="spacingAndGlyphs">30</text>
<text x="243.4" y="412" font-size="19.7" text-anchor="start">Neutron energy (MeV)</text>
<text x="243.4" y="834.5" font-size="19.7" text-anchor="start">Neutron energy (MeV)</text>
<g transform="translate(23.3,324.3) rotate(-90)"><text x="0" y="0" font-size="19.55">Cross section (mbarn MeV<tspan font-size="15.0" dy="-5.4">− </tspan><tspan dy="5.4">)</tspan></text><path d="M515,0L515,1237L197,1010L197,1180L530,1409L696,1409L696,0Z" transform="translate(240.17,-5.4) scale(0.00732,-0.00732)"/></g>
<g transform="translate(22,736) rotate(-90)"><text x="0" y="0" font-size="19.55">Cross section (mbarn MeV<tspan font-size="15.0" dy="-5.4">− </tspan><tspan dy="5.4">)</tspan></text><path d="M515,0L515,1237L197,1010L197,1180L530,1409L696,1409L696,0Z" transform="translate(240.17,-5.4) scale(0.00732,-0.00732)"/></g>
<text x="552.8" y="36.9" font-size="20" text-anchor="start">(a)</text>
<text x="552.8" y="460.9" font-size="20" text-anchor="start">(b)</text>
<text x="190" y="58.2" font-size="17.2" text-anchor="start">total</text>
<text x="248.8" y="205.8" font-size="17.2" text-anchor="start">pre-equilibrium</text>
<text x="147.6" y="292.5" font-size="17.2" text-anchor="start">evaporation</text>
<text x="433.3" y="324.2" font-size="17.2" text-anchor="start">direct</text>
<path d="M118.8,680.2H160" stroke="#000" stroke-width="1.2"/>
<path d="M118.8,702.3H160" stroke="#000" stroke-width="1.2" stroke-dasharray="1.9 2.95"/>
<path d="M118.8,724H160" stroke="#000" stroke-width="1.2" stroke-dasharray="7.7 2.3" stroke-dashoffset="6"/>
<text x="165.71" y="684.5" font-size="17.2" textLength="92.72" lengthAdjust="spacingAndGlyphs">from TALYS</text>
<text x="165.91" y="706.6" font-size="17.2" textLength="83.07" lengthAdjust="spacingAndGlyphs">from Eq.  ,</text><path d="M515,0L515,1237L197,1010L197,1180L530,1409L696,1409L696,0Z" transform="translate(234.81,706.6) scale(0.00829,-0.00840)"/>
<text x="254.2" y="706.6" font-size="17.2" font-style="italic">T</text>
<text x="265.14" y="709.3" font-size="12.4" font-style="italic" textLength="26.09" lengthAdjust="spacingAndGlyphs">evap</text>
<text x="296.13" y="706.6" font-size="17.2" textLength="76.59" lengthAdjust="spacingAndGlyphs">= 2.5 MeV</text>
<text x="165.91" y="728.7" font-size="17.2" textLength="83.07" lengthAdjust="spacingAndGlyphs">from Eq.  ,</text><path d="M515,0L515,1237L197,1010L197,1180L530,1409L696,1409L696,0Z" transform="translate(234.81,728.7) scale(0.00829,-0.00840)"/>
<text x="254.2" y="728.7" font-size="17.2" font-style="italic">T</text>
<text x="265.14" y="731.4" font-size="12.4" font-style="italic" textLength="26.09" lengthAdjust="spacingAndGlyphs">evap</text>
<text x="296.13" y="728.7" font-size="17.2" textLength="76.59" lengthAdjust="spacingAndGlyphs">= 2.  MeV</text><path d="M515,0L515,1237L197,1010L197,1180L530,1409L696,1409L696,0Z" transform="translate(324.46,728.7) scale(0.00815,-0.00840)"/>
</svg>
</body></html>
